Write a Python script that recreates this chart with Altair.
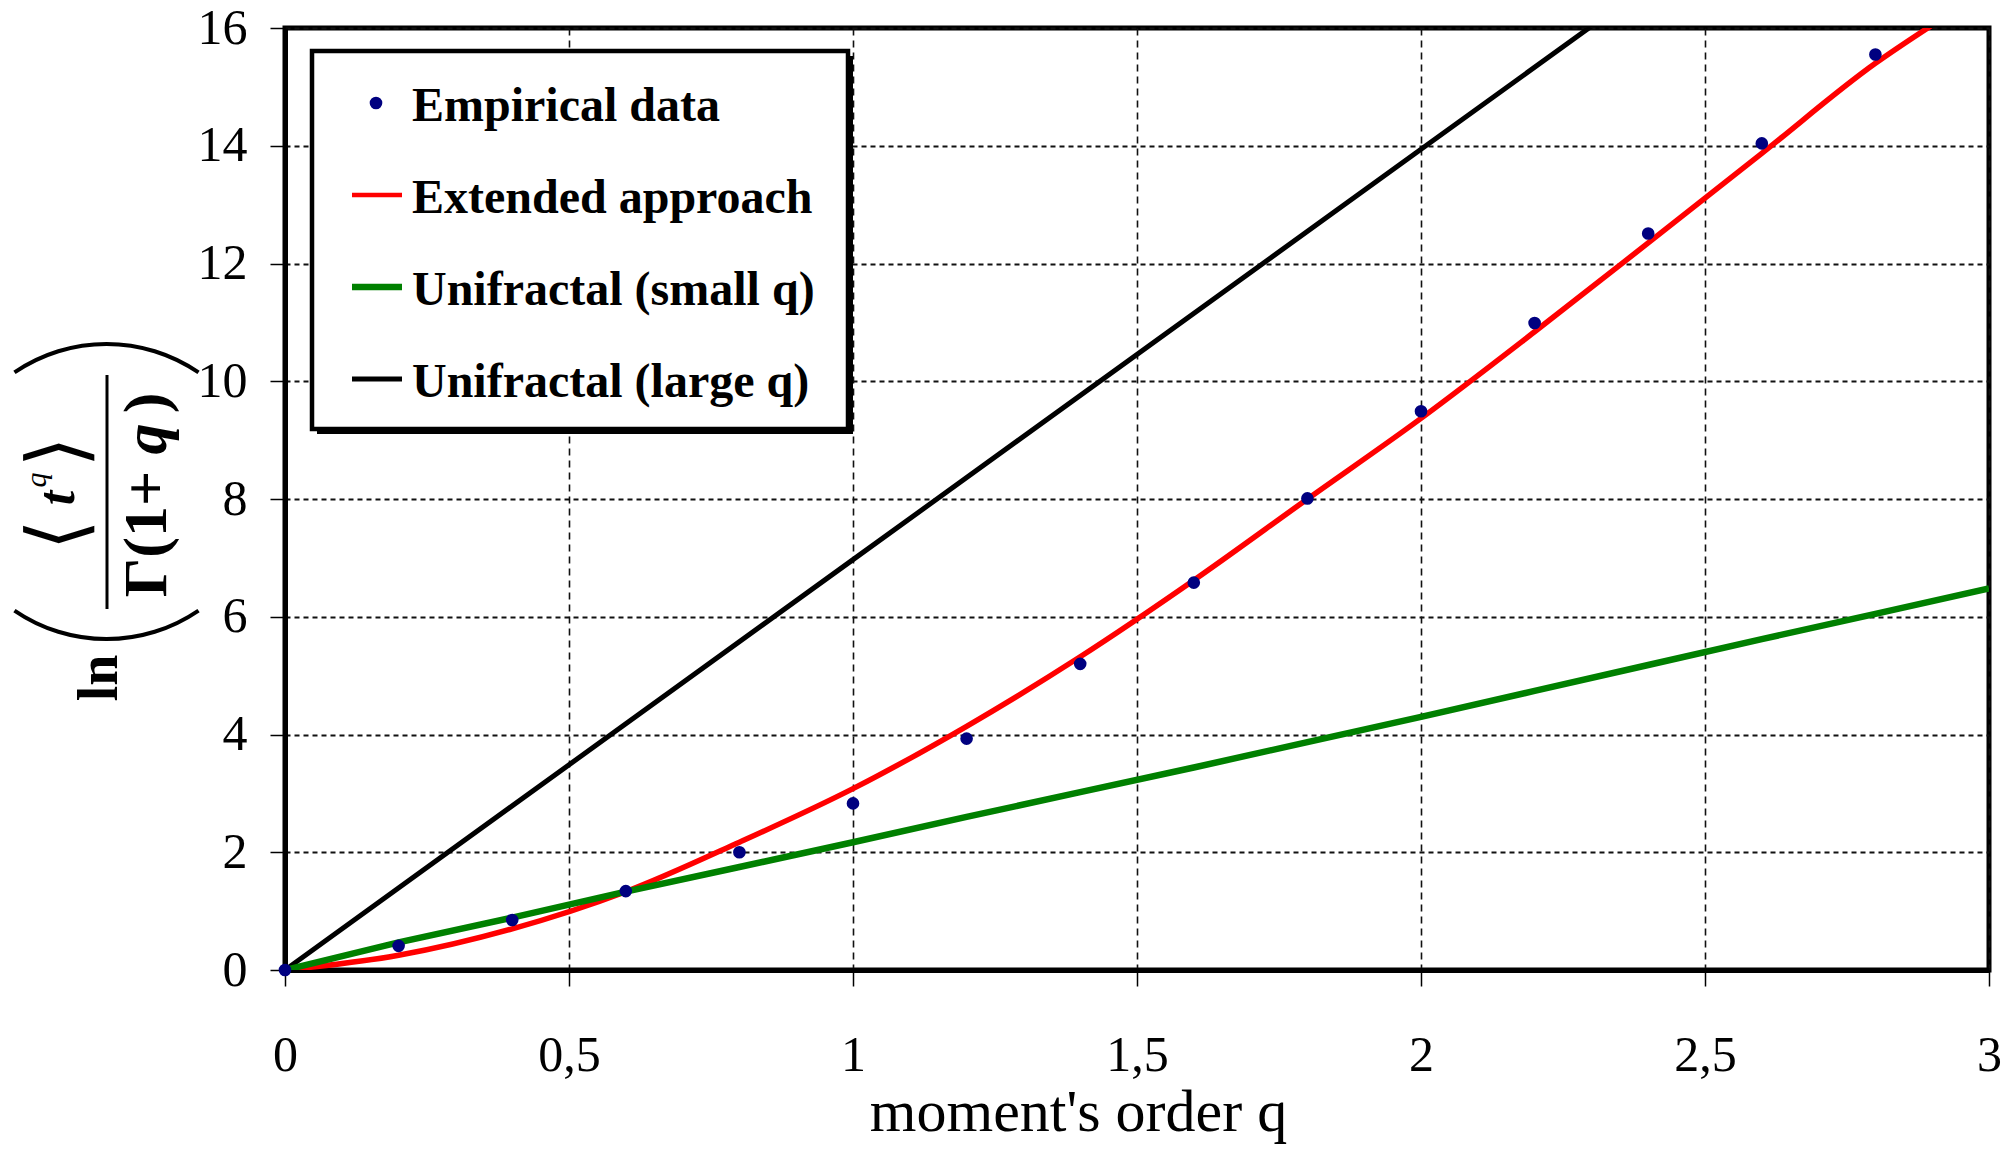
import math
import altair as alt
import pandas as pd

# ---- data -----------------------------------------------------------------
# moment order q and ln(<t^q> / Gamma(1+q)) of the empirical series
q_emp = [0.0, 0.2, 0.4, 0.6, 0.8, 1.0, 1.2, 1.4, 1.6, 1.8, 2.0, 2.2, 2.4, 2.6, 2.8]
ln_emp = [0.0, 0.41, 0.85, 1.34, 2.0, 2.83, 3.93, 5.20, 6.58, 8.01, 9.49, 10.99, 12.51, 14.04, 15.55]

# extended approach (fitted curve)
q_ext = [0.0, 0.2, 0.4, 0.6, 0.8, 1.0, 1.2, 1.4, 1.6, 1.8, 2.0, 2.2, 2.4, 2.6, 2.8, 2.9]
ln_ext = [0.0, 0.25, 0.70, 1.33, 2.17, 3.08, 4.14, 5.32, 6.62, 8.00, 9.37, 10.84, 12.35, 13.87, 15.40, 16.05]

# unifractal fit, small q
q_small = [0.0, 0.2, 0.4, 0.6, 0.8, 1.0, 1.2, 1.4, 1.6, 1.8, 2.0, 2.2, 2.4, 2.6, 2.8, 3.0]
ln_small = [0.0, 0.47, 0.89, 1.33, 1.75, 2.17, 2.60, 3.02, 3.44, 3.87, 4.30, 4.74, 5.18, 5.62, 6.05, 6.48]

# unifractal fit, large q
q_large = [0.0, 1.0, 2.0, 2.3]
ln_large = [0.0, 6.97, 13.94, 16.03]

legend_labels = ["Empirical data", "Extended approach", "Unifractal (small q)", "Unifractal (large q)"]
x_ticks = [0, 0.5, 1, 1.5, 2, 2.5, 3]
y_ticks = [0, 2, 4, 6, 8, 10, 12, 14, 16]
x_title = "moment's order q"

# pieces of the y-axis formula  ln( <t^q> / Gamma(1+q) )
f_ln = "ln"
f_open = "⟨"
f_t = "t"
f_sup = "q"
f_close = "⟩"
f_den_a = "Γ(1+"
f_den_q = "q"
f_den_b = ")"

# ---- styling --------------------------------------------------------------
W, H = 1704, 942
SERIF = "Liberation Serif"
NAVY = "#000080"
RED = "#ff0000"
GREEN = "#008000"

x_scale = alt.Scale(domain=[0, 3], nice=False, zero=False)
y_scale = alt.Scale(domain=[0, 16], nice=False, zero=False)

x_axis = alt.Axis(
    values=x_ticks,
    labelExpr="replace(toString(datum.value), '.', ',')",
    title=x_title,
    titleFont=SERIF,
    titleFontSize=60,
    titleFontWeight="normal",
    titleColor="black",
    titleX=793,
    titleY=160,
    titleAlign="center",
    titleBaseline="alphabetic",
    labelFont=SERIF,
    labelFontSize=50,
    labelColor="black",
    labelPadding=44,
    labelFlush=False,
    labelOverlap=False,
    tickSize=16,
    tickWidth=1.5,
    tickColor="black",
    domainColor="black",
    domainWidth=5,
    grid=True,
    gridColor="#111111",
    gridDash=[7, 5],
    gridWidth=1.6,
)
y_axis = alt.Axis(
    values=y_ticks,
    format="d",
    title=None,
    labelFont=SERIF,
    labelFontSize=50,
    labelColor="black",
    labelPadding=23,
    labelFlush=False,
    labelOverlap=False,
    tickSize=15,
    tickWidth=1.5,
    tickColor="black",
    domainColor="black",
    domainWidth=5,
    grid=True,
    gridColor="#111111",
    gridDash=[5, 4],
    gridWidth=2,
)


def frame(qs, vs):
    return pd.DataFrame({"q": qs, "v": vs})


X = alt.X("q:Q", scale=x_scale, axis=x_axis)
Y = alt.Y("v:Q", scale=y_scale, axis=y_axis)

large = alt.Chart(frame(q_large, ln_large)).mark_line(
    color="black", strokeWidth=5, clip=True
).encode(x=X, y=Y)

extended = alt.Chart(frame(q_ext, ln_ext)).mark_line(
    color=RED, strokeWidth=5.5, clip=True, interpolate="monotone"
).encode(x=alt.X("q:Q"), y=alt.Y("v:Q"))

small = alt.Chart(frame(q_small, ln_small)).mark_line(
    color=GREEN, strokeWidth=6.5, clip=True
).encode(x=alt.X("q:Q"), y=alt.Y("v:Q"))

empirical = alt.Chart(frame(q_emp, ln_emp)).mark_point(
    shape="circle", filled=True, color=NAVY, size=160, opacity=1
).encode(x=alt.X("q:Q"), y=alt.Y("v:Q"))

# ---- legend box -----------------------------------------------------------
one = pd.DataFrame({"k": [0]})
LX0, LX1, LY0, LY1 = 27, 563, 23, 401

legend_shadow = alt.Chart(one).mark_rect(color="black").encode(
    x=alt.value(LX0 + 5), x2=alt.value(LX1 + 5), y=alt.value(LY0 + 5), y2=alt.value(LY1 + 5)
)
legend_box = alt.Chart(one).mark_rect(fill="white", stroke="black", strokeWidth=4.5).encode(
    x=alt.value(LX0), x2=alt.value(LX1), y=alt.value(LY0), y2=alt.value(LY1)
)

legend_layers = [legend_shadow, legend_box]
row_gap = 92
sym_kinds = [("dot", NAVY, 0), ("line", RED, 4.5), ("line", GREEN, 6.5), ("line", "black", 5)]
for i, (label, (kind, col, lw)) in enumerate(zip(legend_labels, sym_kinds)):
    cy = 75 + row_gap * i
    if kind == "dot":
        legend_layers.append(
            alt.Chart(one).mark_point(shape="circle", filled=True, color=col, size=160, opacity=1).encode(
                x=alt.value(91), y=alt.value(cy)
            )
        )
    else:
        legend_layers.append(
            alt.Chart(one).mark_rule(color=col, strokeWidth=lw).encode(
                x=alt.value(67), x2=alt.value(117), y=alt.value(cy)
            )
        )
    legend_layers.append(
        alt.Chart(pd.DataFrame({"label": [label]})).mark_text(
            font=SERIF, fontSize=48, fontWeight="bold", color="black", align="left", baseline="alphabetic"
        ).encode(x=alt.value(127), y=alt.value(cy + 18), text="label:N")
    )

# ---- y-axis formula, written vertically ----------------------------------
def vtext(txt, x, y, size, weight="bold", style="normal", font=SERIF):
    return alt.Chart(pd.DataFrame({"s": [txt]})).mark_text(
        font=font, fontSize=size, fontWeight=weight, fontStyle=style, color="black",
        angle=270, align="center", baseline="middle"
    ).encode(x=alt.value(x), y=alt.value(y), text="s:N")


def paren_arc(cx, cy, t0, t1):
    return alt.Chart(one).mark_arc(
        radius=165, radius2=161, theta=t0, theta2=t1, color="black"
    ).encode(x=alt.value(cx), y=alt.value(cy))


formula = [
    vtext(f_ln, -185, 650, 56),
    paren_arc(-178.5, 448, math.pi - 0.6, math.pi + 0.6),
    paren_arc(-178.5, 479, 2 * math.pi - 0.6, 2 * math.pi + 0.6),
    alt.Chart(one).mark_rule(color="black", strokeWidth=3).encode(
        x=alt.value(-178), y=alt.value(347), y2=alt.value(581)
    ),
    vtext(f_open, -225, 507, 80, weight="normal", font="DejaVu Sans"),
    vtext(f_t, -227, 470, 52, style="italic"),
    vtext(f_sup, -248, 452, 30, weight="normal", style="italic"),
    vtext(f_close, -225, 424, 80, weight="normal", font="DejaVu Sans"),
    vtext(f_den_a, -138, 506, 62),
    vtext(f_den_q, -138, 411, 62, style="italic"),
    vtext(f_den_b, -138, 375, 62),
]

chart = alt.layer(
    large, extended, small, empirical, *legend_layers, *formula
).properties(
    width=W,
    height=H,
    padding={"left": 285, "top": 28, "right": 14, "bottom": 183},
    autosize=alt.AutoSizeParams(type="none"),
    background="white",
).configure_view(stroke="black", strokeWidth=5)

chart.save("out.html", embed_options={"renderer": "svg", "actions": False})
